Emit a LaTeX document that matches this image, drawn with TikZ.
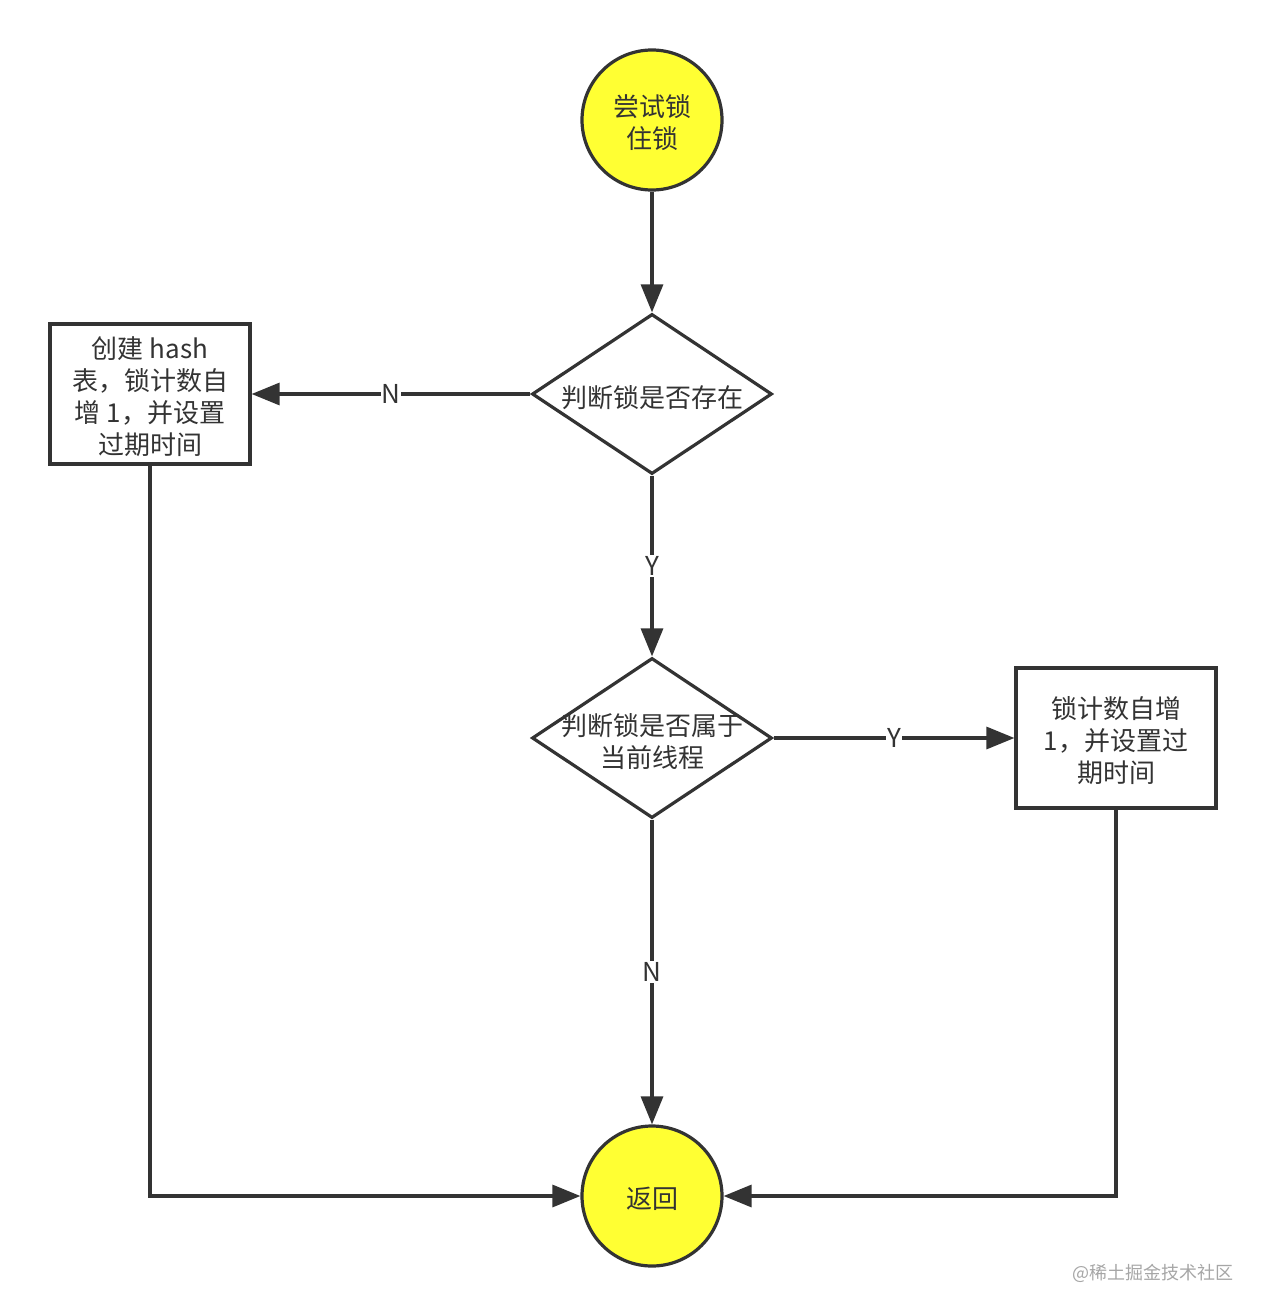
\documentclass[tikz,border=0pt]{standalone}
\usepackage{fontspec}
\setmainfont{Noto Sans CJK SC}
\usetikzlibrary{shapes.geometric,arrows.meta}
\definecolor{ln}{HTML}{333333}
\definecolor{yel}{HTML}{FFFF33}
\tikzset{
  base/.style={draw=ln, line width=1.6pt, inner sep=0pt},
  circ/.style={base, circle, fill=yel, minimum size=70pt},
  dia/.style={base, diamond, fill=white, minimum width=120pt, minimum height=80pt},
  boxn/.style={base, rectangle, fill=white, minimum width=100pt, minimum height=70pt},
  txt/.style={text=ln, font=\fontsize{13pt}{16pt}\selectfont, align=center, inner sep=0pt},
  arr/.style={draw=ln, line width=1.6pt, -{Triangle[length=14pt,width=11pt]}},
  lbl/.style={fill=white, text=ln, font=\fontsize{13pt}{15pt}\selectfont, inner sep=0.5pt}
}
\begin{document}
\begin{tikzpicture}[x=0.5pt,y=-0.5pt]
\useasboundingbox (0,0) rectangle (1266,1316);
\node[circ] (start) at (652,120) {};
\node[txt] (startt) at (652,123) {尝试锁\\住锁};
\node[dia] (d1) at (652,394) {};
\node[txt] (d1t) at (652,398) {判断锁是否存在};
\node[boxn] (boxL) at (150,394) {};
\node[txt] (boxLt) at (150,397) {创建 hash\\表，锁计数自\\增 1，并设置\\过期时间};
\node[dia] (d2) at (652,738) {};
\node[txt] (d2t) at (652,742) {判断锁是否属于\\当前线程};
\node[boxn] (boxR) at (1116,738) {};
\node[txt] (boxRt) at (1116,741) {锁计数自增\\1，并设置过\\期时间};
\node[circ] (end) at (652,1196) {};
\node[txt] (endt) at (652,1199) {返回};
\node[text=gray!70, font=\fontsize{9pt}{11pt}\selectfont, inner sep=0pt] (wm) at (1153,1273) {@稀土掘金技术社区};

\draw[arr] (start) -- (d1);
\draw[arr] (d1) -- node[lbl]{N} (boxL);
\draw[arr] (d1) -- node[lbl]{Y} (d2);
\draw[arr] (d2) -- node[lbl]{Y} (boxR);
\draw[arr] (d2) -- node[lbl]{N} (end);
\draw[arr] (boxL) |- (end);
\draw[arr] (boxR) |- (end);
\end{tikzpicture}
\end{document}
